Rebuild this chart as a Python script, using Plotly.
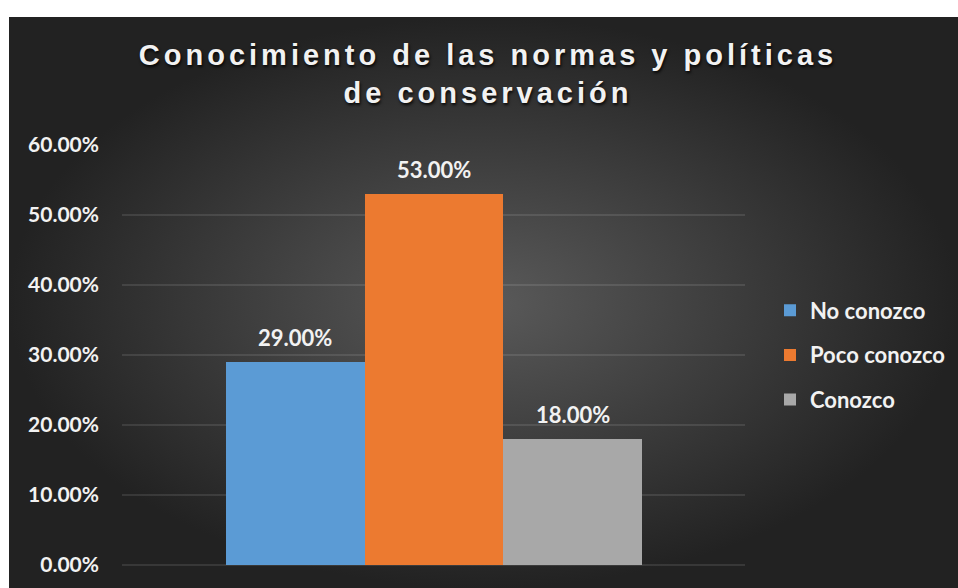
import plotly.graph_objects as go

# ---- data ----
categories = ["No conozco", "Poco conozco", "Conozco"]
values = [0.29, 0.53, 0.18]
bar_colors = ["#5b9bd5", "#ec7a30", "#a8a8a8"]
title_text = "Conocimiento de las normas y políticas<br>de conservación"
y_tick_vals = [0, 0.1, 0.2, 0.3, 0.4, 0.5, 0.6]

W, H = 958, 588
FONT = "Lato"
TXT = "#f2f2f2"

fig = go.Figure()

# background panel (radial gradient), drawn on a full-canvas helper axis pair
fig.add_trace(go.Scatter(
    x=[9, W, W, 9, 9], y=[0, 0, H - 17, H - 17, 0],
    fill="toself", mode="lines", line=dict(width=0, color="rgba(0,0,0,0)"),
    fillgradient=dict(type="radial", colorscale=[[0, "#5a5a5a"], [1, "#222222"]]),
    hoverinfo="skip", showlegend=False, xaxis="x", yaxis="y",
))

for cat, val, col in zip(categories, values, bar_colors):
    fig.add_trace(go.Bar(
        x=[cat], y=[val], name=cat, legendgroup=cat,
        marker=dict(color=col, line=dict(width=0)),
        xaxis="x2", yaxis="y2",
        hovertemplate="%{x}: %{y:.2%}<extra></extra>",
    ))
    fig.add_annotation(
        x=cat, y=val, xref="x2", yref="y2", text=f"{val:.2%}",
        showarrow=False, yshift=25, yanchor="middle",
        font=dict(family=FONT, size=22, color=TXT, weight="bold"),
    )

fig.update_layout(
    template="none",
    width=W, height=H, autosize=False,
    margin=dict(l=0, r=0, t=0, b=0, pad=0, autoexpand=False),
    paper_bgcolor="white",
    plot_bgcolor="rgba(0,0,0,0)",
    barmode="relative",
    bargap=0,
    title=dict(
        text=title_text, x=488 / W, xanchor="center",
        y=1 - 65 / H, yanchor="top", yref="container",
        font=dict(family="Liberation Sans", size=29, color=TXT, weight="bold",
                  shadow="1px 2px 3px rgba(0,0,0,0.85)"),
    ),
    xaxis=dict(domain=[0, 1], range=[0, W], visible=False, fixedrange=True,
               automargin=False),
    yaxis=dict(domain=[0, 1], range=[0, H], visible=False, fixedrange=True,
               automargin=False),
    xaxis2=dict(
        domain=[122 / W, 745 / W], anchor="y2", type="category",
        categoryorder="array", categoryarray=categories,
        range=[-1.249, 3.243], showticklabels=False, showgrid=False,
        zeroline=False, showline=False, fixedrange=True, automargin=False,
    ),
    yaxis2=dict(
        domain=[23 / H, 443 / H], anchor="x2", range=[0, 0.6],
        tickvals=y_tick_vals, tickformat=".2%",
        showgrid=True, gridcolor="rgba(255,255,255,0.1)", gridwidth=2,
        zeroline=True, zerolinecolor="rgba(255,255,255,0.1)", zerolinewidth=2,
        showline=False, ticks="", ticklabelstandoff=22,
        tickfont=dict(family=FONT, size=21, color=TXT, weight="bold"),
        fixedrange=True, automargin=False,
    ),
    legend=dict(
        x=770 / W, xanchor="left", y=1 - 355 / H, yanchor="middle",
        bgcolor="rgba(0,0,0,0)", borderwidth=0, tracegroupgap=13,
        font=dict(family=FONT, size=22, color=TXT, weight="bold"),
    ),
    showlegend=True,
)

post = (
    "document.body.style.margin='0';"
    "document.body.style.overflow='hidden';"
    "document.querySelectorAll('.gtitle').forEach(function(e){e.style.letterSpacing='4px';});"
)
fig.write_html("out.html", post_script=post, config={"displayModeBar": False})
